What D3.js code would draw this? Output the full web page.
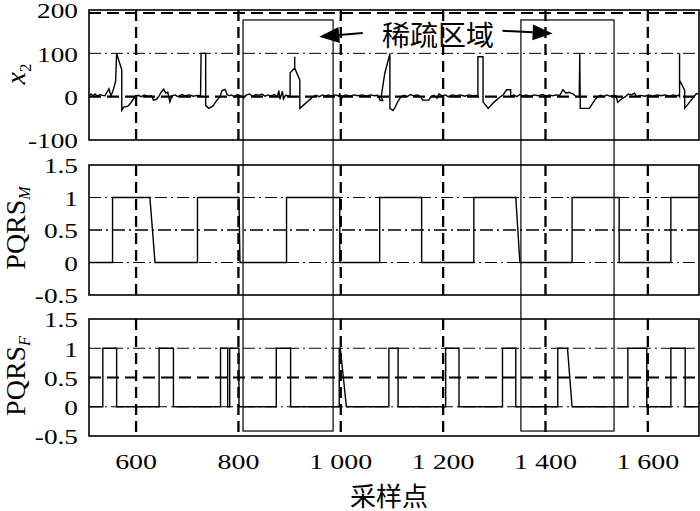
<!DOCTYPE html>
<html><head><meta charset="utf-8">
<script src="https://cdn.jsdelivr.net/npm/d3@7"></script>
<style>body{margin:0;background:#fff}</style>
</head><body>
<svg id="c" width="700" height="511" xmlns="http://www.w3.org/2000/svg"></svg>
<script>
// ---------- data ----------
const xDomain = [508, 1700];
const xTicks = [600, 800, 1000, 1200, 1400, 1600];
const xTickLabels = ["600", "800", "1 000", "1 200", "1 400", "1 600"];
const x2Ticks = [-100, 0, 100, 200];
const x2TickLabels = ["-100", "0", "100", "200"];
const pqrsTicks = [-0.5, 0, 0.5, 1, 1.5];
const pqrsTickLabels = ["-0.5", "0", "0.5", "1", "1.5"];
const xLabel = "采样点";
const annotationText = "稀疏区域";

const x2Signal = [
  [508,3],[512,6],[516,2],[520,6],[524,1],[530,5],[534,3],[539,2],[547,18],[551,1],[556,18],[560,35],
  [562,100],[572,62],[572,-31],[576,-24],[584,-22],[590,-14],[598,0],
  [604,3],[610,0],[616,4],[622,1],[630,2],[634,-8],[640,-6],[645,2],[650,12],[654,17],[658,8],[662,10],
  [666,-12],[670,2],[676,4],[682,0],[690,5],[696,2],[704,4],[712,1],[720,3],
  [726,2],[727,100],[736,100],[736,-20],[742,-27],[750,-22],[758,-8],[764,0],[768,14],[774,17],[778,5],[782,2],
  [786,4],[792,0],[798,5],[804,2],[810,-3],[816,4],[822,6],[828,0],[834,5],[840,3],[846,6],[852,1],
  [858,4],[864,2],[870,5],[876,0],[879,14],[881,-6],[886,12],[888,-5],[892,3],[898,2],
  [901,0],[901,55],[910,66],[910,92],[910,66],[920,38],[920,-27],[946,0],
  [952,3],[958,0],[964,4],[970,1],[976,4],[982,2],[990,4],[996,1],[998,8],[1000,-10],[1004,2],
  [1010,4],[1018,1],[1026,4],[1034,2],[1042,4],[1050,1],[1058,4],[1066,2],[1072,3],
  [1074,0],[1077,-9],[1082,-9],[1079,0],[1086,54],[1094,90],[1096,100],[1096,-27],[1102,-32],[1106,-25],[1112,-10],[1118,0],
  [1124,3],[1130,0],[1136,5],[1142,2],[1150,4],[1156,0],[1160,-8],[1172,-8],[1176,0],[1182,3],[1188,-4],
  [1192,6],[1198,2],[1204,4],[1210,0],[1218,4],[1226,2],[1234,4],[1242,1],[1250,4],[1258,2],[1264,3],
  [1268,2],[1268,92],[1278,92],[1278,-12],[1288,-27],[1300,-12],[1310,-2],[1318,5],[1324,16],[1332,16],[1332,2],
  [1338,4],[1344,0],[1350,5],[1356,2],[1362,4],[1370,1],[1378,4],[1386,2],[1394,5],[1402,1],[1408,4],
  [1414,2],[1420,4],[1428,3],[1434,16],[1440,8],[1446,10],[1454,6],[1460,0],
  [1466,0],[1467,100],[1468,-27],[1486,-27],[1496,-8],[1502,0],
  [1508,3],[1514,0],[1520,4],[1526,1],[1532,3],[1538,2],[1541,-13],[1548,-6],[1556,0],[1562,6],[1568,4],
  [1574,8],[1578,0],[1586,3],[1594,1],[1602,4],[1610,1],[1618,4],[1626,2],[1634,4],[1642,1],[1650,4],[1656,2],[1660,3],
  [1662,0],[1662,100],[1662,38],[1672,15],[1672,-27],[1695,7],[1700,6]
];

const pqrsM = [
  [508,0],[554,0],[554,1],[627,1],[637,0],[720,0],[720,1],[801,1],[803,0],[894,0],[894,1],[998,1],[998,0],
  [1076,0],[1076,1],[1158,1],[1158,0],[1260,0],[1260,1],[1342,1],[1350,0],[1452,0],[1452,1],[1544,1],[1544,0],
  [1645,0],[1645,1],[1700,1]
];

const pqrsF = [
  [508,0],[535,0],[535,1],[562,1],[562,0],[645,0],[645,1],[673,1],[673,0],[765,0],[765,1],[779,1],[779,0],
  [783,0],[783,1],[801,1],[801,0],[874,0],[874,1],[902,1],[902,0],[997,0],[997,1],[999,1],[1011,0],
  [1094,0],[1094,1],[1112,1],[1112,0],[1205,0],[1205,1],[1231,1],[1231,0],[1316,0],[1316,1],[1342,1],[1342,0],
  [1424,0],[1424,1],[1443,1],[1452,0],[1561,0],[1561,1],[1598,1],[1598,0],[1645,0],[1645,1],[1673,1],[1673,0],[1700,0]
];

// sparse regions: [x0, x1], from top-panel value to bottom-panel value
const sparseRegions = [[809, 985], [1352, 1534]];
const regionTop = 177;      // x2 units
const regionBottom = -0.415; // PQRS_F units
// annotation arrows: [tailX, tailY, tipX, tipY] in top-panel data units
const arrows = [[1043, 147, 958, 138], [1316, 152, 1414, 146]];

// ---------- layout ----------
const svg = d3.select("#c");
const L = 89, R = 699;
const x = d3.scaleLinear().domain(xDomain).range([L, R]);

const panels = [
  {data: x2Signal, y: d3.scaleLinear().domain([-100, 200]).range([140, 10]),
   ticks: x2Ticks, labels: x2TickLabels, dashed: [0], dashedTop: true, dashdot: [100], label: "x2", labY: 74},
  {data: pqrsM, y: d3.scaleLinear().domain([-0.5, 1.5]).range([295, 165]),
   ticks: pqrsTicks, labels: pqrsTickLabels, dashed: [0.5], dashdot: [0, 1], label: "M", labY: 228},
  {data: pqrsF, y: d3.scaleLinear().domain([-0.5, 1.5]).range([436, 319]),
   ticks: pqrsTicks, labels: pqrsTickLabels, dashed: [0.5], dashdot: [0, 1], label: "F", labY: 376}
];

const serif = "Liberation Serif, Times New Roman, serif";

panels.forEach((p, i) => {
  const g = svg.append("g");
  const [yb, yt] = p.y.range();
  g.selectAll(".vg").data(xTicks).join("line")
    .attr("x1", d => x(d)).attr("x2", d => x(d)).attr("y1", yt).attr("y2", yb)
    .attr("stroke", "#000").attr("stroke-width", 2.3).attr("stroke-dasharray", "11,6");
  g.selectAll(".hd").data(p.dashed).join("line")
    .attr("x1", L).attr("x2", R).attr("y1", d => p.y(d)).attr("y2", d => p.y(d))
    .attr("stroke", "#000").attr("stroke-width", i === 1 ? 1.5 : 2.2).attr("stroke-dasharray", i === 1 ? "13,4,2,4" : "12,6");
  if (p.dashedTop) {
    g.append("line").attr("x1", L).attr("x2", R).attr("y1", p.y(200) + 3).attr("y2", p.y(200) + 3)
      .attr("stroke", "#000").attr("stroke-width", 2.2).attr("stroke-dasharray", "12,6");
  }
  g.selectAll(".hdd").data(p.dashdot).join("line")
    .attr("x1", L).attr("x2", R).attr("y1", d => p.y(d)).attr("y2", d => p.y(d))
    .attr("stroke", "#000").attr("stroke-width", 1).attr("stroke-dasharray", "12,4,2,4");
  g.append("path").datum(p.data)
    .attr("d", d3.line().x(d => x(d[0])).y(d => p.y(d[1])))
    .attr("fill", "none").attr("stroke", "#000").attr("stroke-width", 1.4).attr("stroke-linejoin", "miter");
  g.append("rect").attr("x", L).attr("y", yt).attr("width", R - L).attr("height", yb - yt)
    .attr("fill", "none").attr("stroke", "#000").attr("stroke-width", 1.6);
  g.selectAll(".yt").data(p.ticks).join("text")
    .attr("transform", d => `translate(78,${p.y(d) + 1}) scale(1.3,1)`)
    .attr("text-anchor", "end").attr("dominant-baseline", "central")
    .attr("font-family", serif).attr("font-size", 21).text((d, k) => p.labels[k]);
  const t = g.append("text").attr("transform", `translate(25,${p.labY}) rotate(-90)`)
    .attr("text-anchor", "middle").attr("font-family", serif).attr("font-size", 28);
  if (p.label === "x2") {
    t.append("tspan").attr("font-style", "italic").text("x");
    t.append("tspan").attr("font-size", 17).attr("dy", 6).text("2");
  } else {
    t.append("tspan").text("PQRS");
    t.append("tspan").attr("font-size", 16).attr("font-style", "italic").attr("dy", 5).text(p.label);
  }
});

svg.selectAll(".xt").data(xTicks).join("text")
  .attr("transform", d => `translate(${x(d)},462) scale(1.27,1)`)
  .attr("text-anchor", "middle").attr("dominant-baseline", "central")
  .attr("font-family", serif).attr("font-size", 22).text((d, k) => xTickLabels[k]);

svg.append("text").attr("x", 389).attr("y", 494).attr("text-anchor", "middle")
  .attr("dominant-baseline", "central").attr("font-family", "Noto Sans CJK SC, sans-serif")
  .attr("font-size", 26).text(xLabel);

const yTop = panels[0].y, yBot = panels[2].y;
svg.selectAll(".box").data(sparseRegions).join("rect")
  .attr("x", d => x(d[0])).attr("y", yTop(regionTop))
  .attr("width", d => x(d[1]) - x(d[0])).attr("height", yBot(regionBottom) - yTop(regionTop))
  .attr("fill", "none").attr("stroke", "#000").attr("stroke-width", 1.2);

svg.append("text").attr("x", 438).attr("y", 34).attr("text-anchor", "middle")
  .attr("dominant-baseline", "central").attr("font-family", "Noto Sans CJK SC, sans-serif")
  .attr("font-size", 28).text(annotationText);

arrows.forEach(a => {
  const x0 = x(a[0]), y0 = yTop(a[1]), x1 = x(a[2]), y1 = yTop(a[3]);
  const ang = Math.atan2(y1 - y0, x1 - x0);
  const hl = 20, hw = 8;
  const bx = x1 - hl * Math.cos(ang), by = y1 - hl * Math.sin(ang);
  svg.append("line").attr("x1", x0).attr("y1", y0).attr("x2", bx).attr("y2", by)
    .attr("stroke", "#000").attr("stroke-width", 2);
  const px = -Math.sin(ang) * hw, py = Math.cos(ang) * hw;
  svg.append("path").attr("d", `M${x1},${y1}L${bx + px},${by + py}L${bx - px},${by - py}Z`).attr("fill", "#000");
});
</script>
</body></html>
